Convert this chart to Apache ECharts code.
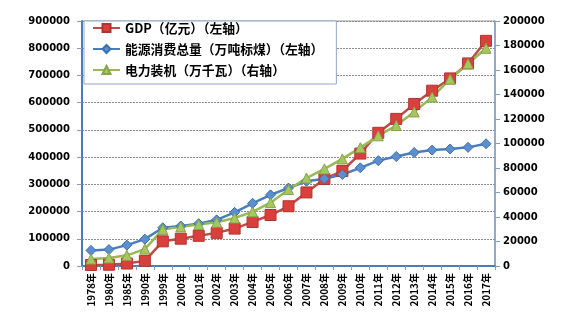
<!DOCTYPE html>
<html><head><meta charset="utf-8">
<script src="https://cdn.jsdelivr.net/npm/echarts@6/dist/echarts.min.js"></script>
<style>html,body{margin:0;padding:0;background:#fff}#c{width:564px;height:335px}</style>
</head><body><div id="c"></div>
<script>
const categories = ['1978年','1980年','1985年','1990年','1999年','2000年','2001年','2002年','2003年','2004年','2005年','2006年','2007年','2008年','2009年','2010年','2011年','2012年','2013年','2014年','2015年','2016年','2017年'];
const gdp = [3679,4588,9099,18872,90564,100280,110863,121717,137422,161840,187319,219439,270232,319516,349081,413030,489301,540367,595244,643974,689052,744127,827122];
const energy = [57144,60275,76682,98703,140569,146964,155547,169577,197083,230281,261369,286467,311442,320611,336126,360648,387043,402138,416913,425806,429905,435819,449000];
const power = [5712,6587,8705,13789,29877,31932,33849,35657,39141,44239,51718,62370,71822,79273,87410,96641,106253,114676,125768,137887,152527,165051,177708];
const leftTicks = {min:0, max:900000, interval:100000};
const rightTicks = {min:0, max:200000, interval:20000};
const names = ['GDP（亿元）（左轴）','能源消费总量（万吨标煤）（左轴）','电力装机（万千瓦）（右轴）'];

const numFont = {fontFamily:'DejaVu Sans', fontWeight:'bold', fontSize:10, color:'#000', formatter:v=>String(v)};
const axisBlue = '#4a7ebb';
const chart = echarts.init(document.getElementById('c'));
chart.setOption({
  animation:false,
  backgroundColor:'#fff',
  grid:{left:82, right:69, top:21, bottom:69, show:true, borderColor:'#9a9a9a', borderWidth:1, backgroundColor:'transparent'},
  legend:{
    orient:'vertical', left:84, top:21,
    padding:[0,13,7,8], itemGap:7, itemWidth:27, itemHeight:10,
    backgroundColor:'#fff', borderColor:'#8fa5c6', borderWidth:1,
    textStyle:{fontFamily:'Noto Sans CJK SC', fontWeight:'bold', fontSize:12.8, lineHeight:14, color:'#000'},
    data:names
  },
  xAxis:{
    type:'category', data:categories, boundaryGap:true,
    axisLine:{lineStyle:{color:axisBlue, width:2}},
    axisTick:{show:true, length:4, lineStyle:{color:'#7f9fc8'}},
    axisLabel:{rotate:90, interval:0, margin:7, fontFamily:'Noto Sans CJK SC', fontWeight:'bold', fontSize:10, color:'#000'}
  },
  yAxis:[
    {type:'value', min:leftTicks.min, max:leftTicks.max, interval:leftTicks.interval,
     axisLine:{show:true, lineStyle:{color:axisBlue, width:2}},
     axisTick:{show:true, length:5, lineStyle:{color:'#7f9fc8'}},
     axisLabel:Object.assign({margin:12}, numFont),
     splitLine:{show:true, lineStyle:{color:'#8c8c8c', type:[2,1], width:1}}},
    {type:'value', min:rightTicks.min, max:rightTicks.max, interval:rightTicks.interval,
     axisLine:{show:true, lineStyle:{color:'#7f9fc8', width:1.5}},
     axisTick:{show:true, length:5, lineStyle:{color:'#7f9fc8'}},
     axisLabel:Object.assign({margin:8}, numFont),
     splitLine:{show:false}}
  ],
  series:[
    {name:names[0], type:'line', yAxisIndex:0, data:gdp, symbol:'rect', symbolSize:11,
     lineStyle:{color:'#be4b48', width:2.5}, itemStyle:{color:'#d9403c', borderColor:'#b03532', borderWidth:1}},
    {name:names[1], type:'line', yAxisIndex:0, data:energy, symbol:'diamond', symbolSize:10,
     lineStyle:{color:'#4a7ebb', width:2.5}, itemStyle:{color:'#5b8fd0', borderColor:'#3d6fab', borderWidth:1}},
    {name:names[2], type:'line', yAxisIndex:1, data:power, symbol:'triangle', symbolSize:10,
     lineStyle:{color:'#98b954', width:2.5}, itemStyle:{color:'#a6c760', borderColor:'#86a44a', borderWidth:1}}
  ]
});
</script></body></html>
